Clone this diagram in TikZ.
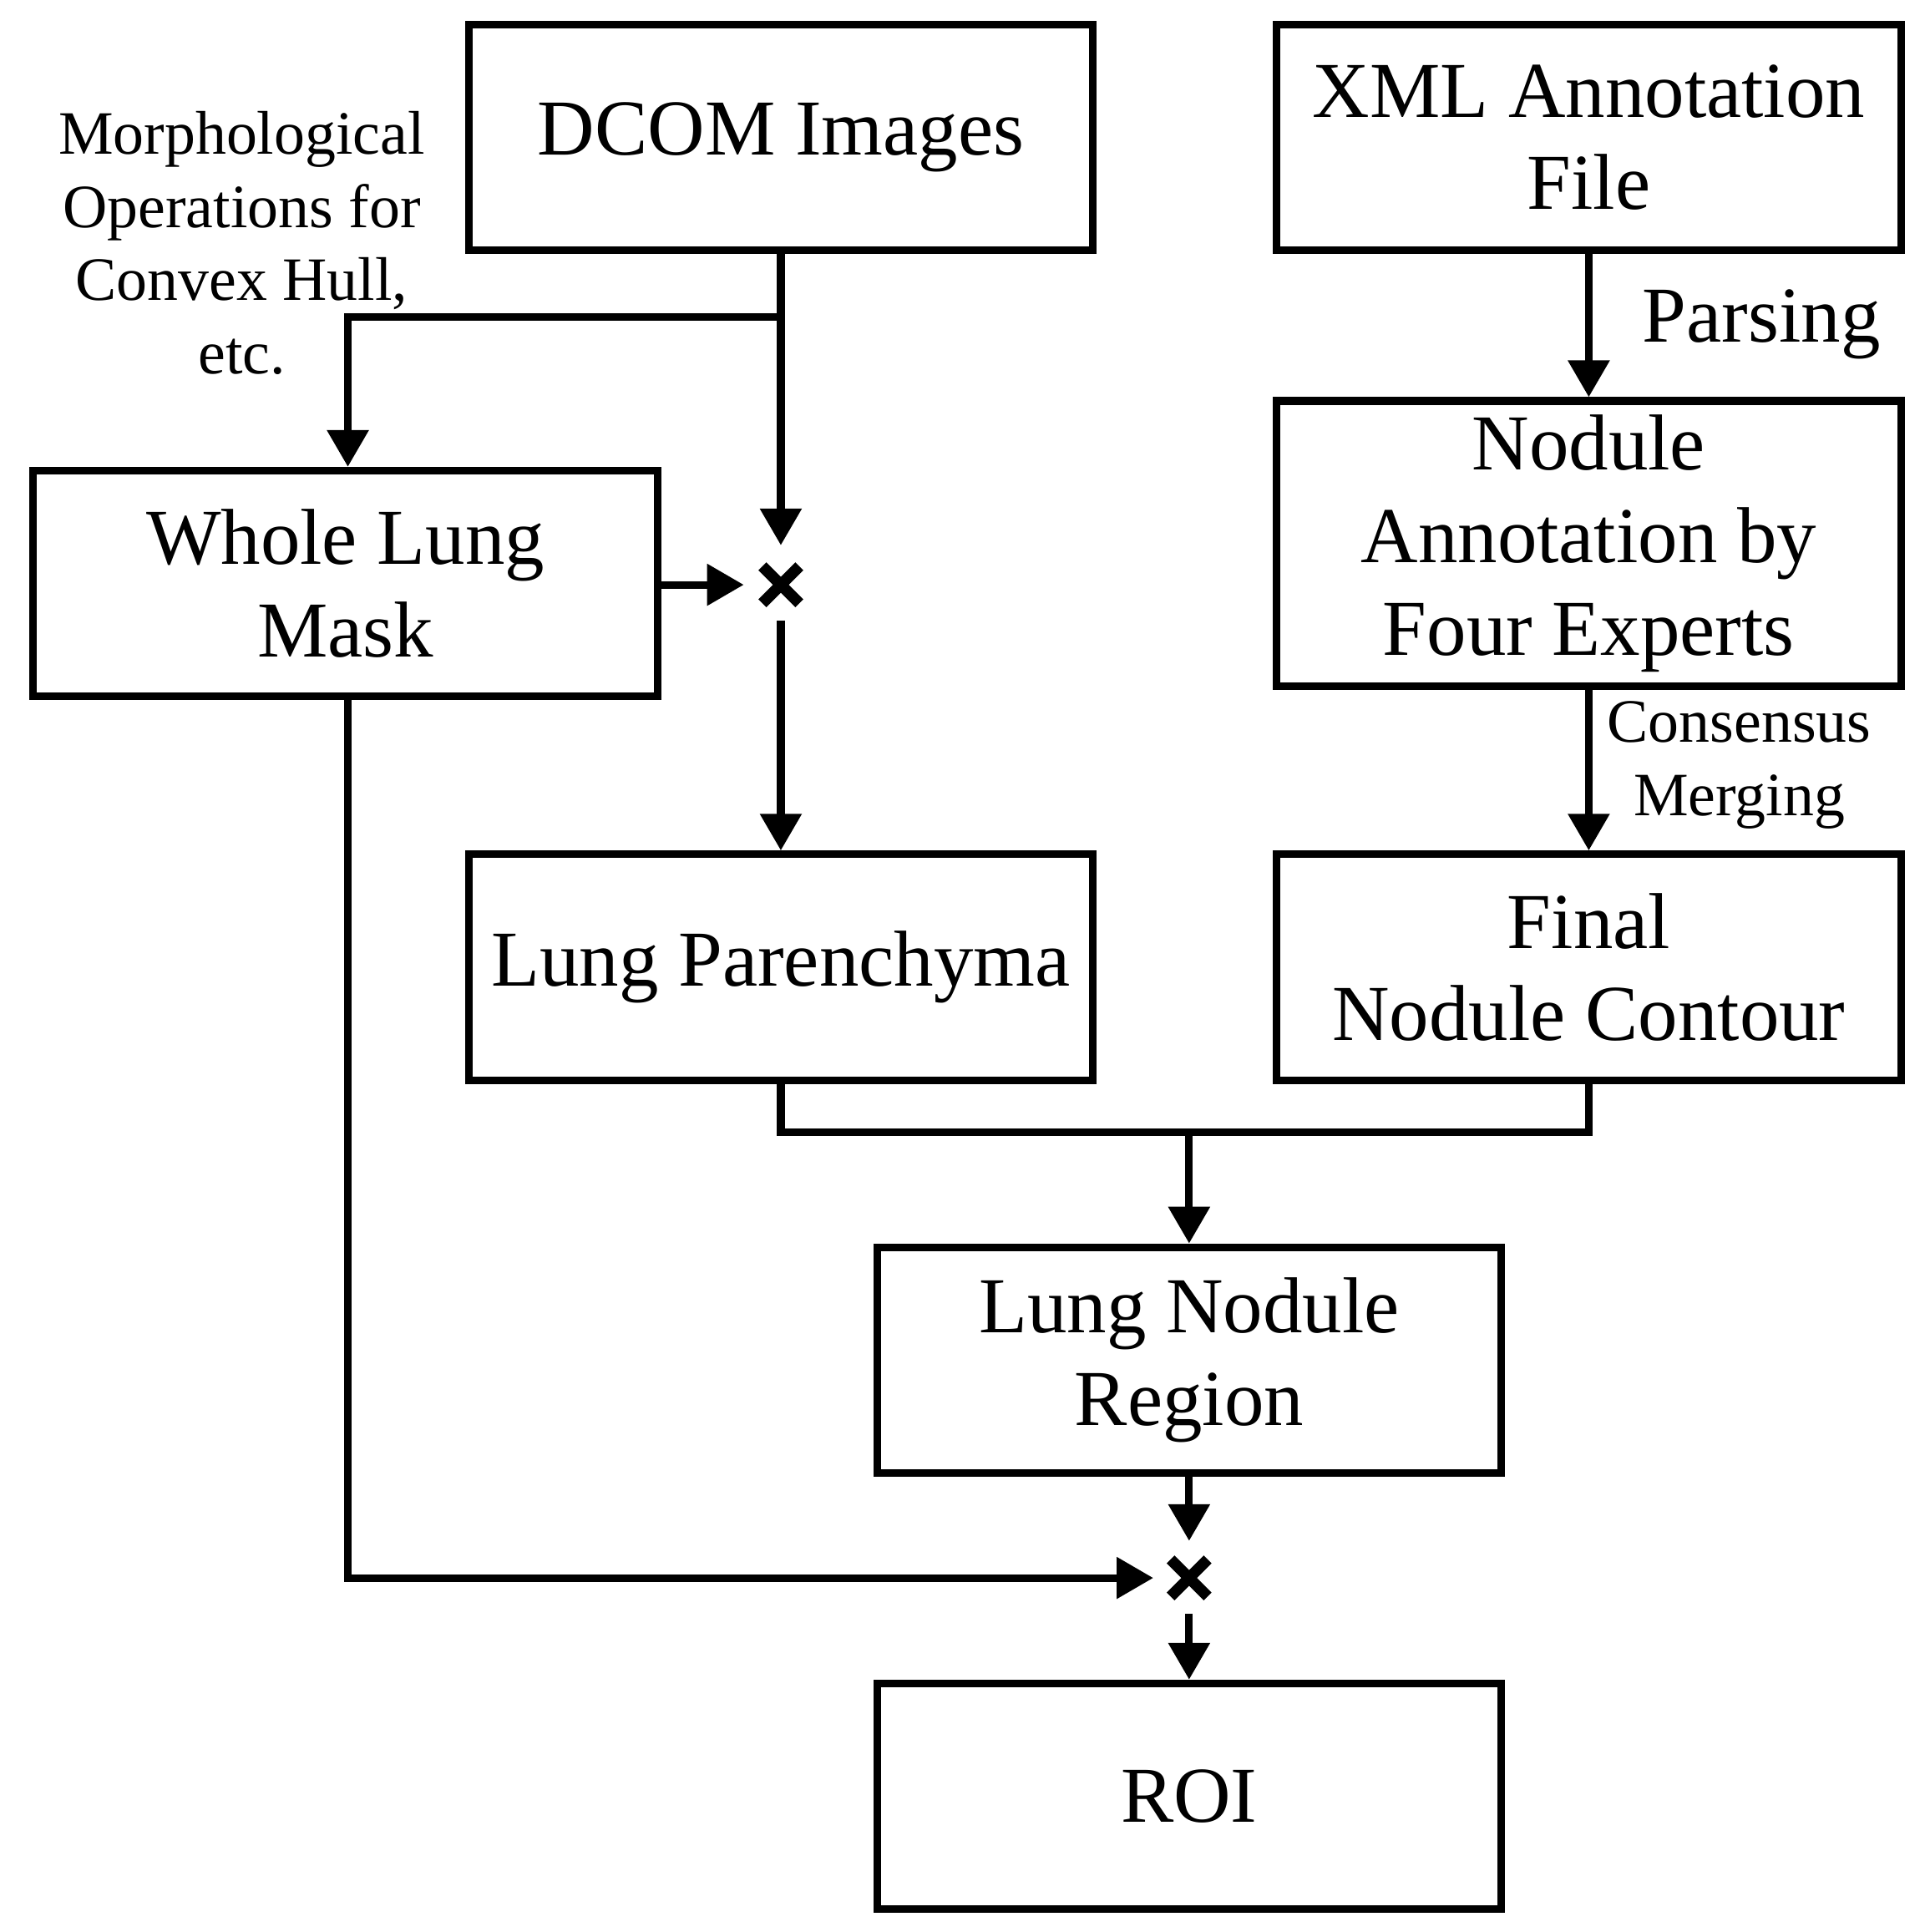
\documentclass[tikz,border=0pt]{standalone}
\usepackage{fontspec}
\setmainfont{Liberation Serif}
\usetikzlibrary{arrows.meta,calc}
\begin{document}
\begin{tikzpicture}[x=0.01477cm,y=-0.01477cm,
  box/.style={draw,line width=2.6pt,minimum width={506*0.01477cm},minimum height={183*0.01477cm},align=center,inner sep=2pt,font=\fontsize{27}{31.5}\selectfont},
  ln/.style={line width=2.6pt},
  ar/.style={ln,-{Triangle[length=0.44cm,width=0.48cm]}},
  small/.style={align=center,font=\fontsize{21}{25}\selectfont},
  cross/.style={line width=3.8pt}]
\useasboundingbox (0,0) rectangle (1560,1566);
\node[box] (dcom) at (633,111.5) {DCOM Images};
\node[box] (xml) at (1288,111.5) {XML Annotation\\File};
\node[box] (mask) at (280,473) {Whole Lung\\Mask};
\node[box,minimum height={231*0.01477cm}] (nod) at (1288,440.5) {Nodule\\Annotation by\\Four Experts};
\node[box] (par) at (633,784) {Lung Parenchyma};
\node[box] (fin) at (1288,784) {Final\\Nodule Contour};
\node[box] (reg) at (964,1102.5) {Lung Nodule\\Region};
\node[box] (roi) at (964,1456) {ROI};
\coordinate (c1) at (633,474);
\coordinate (c2) at (964,1279);
\foreach \c in {c1,c2}{
  \draw[cross] ($(\c)+(-15,-15)$) -- ($(\c)+(15,15)$);
  \draw[cross] ($(\c)+(-15,15)$) -- ($(\c)+(15,-15)$);}
\coordinate (c1t) at (633,442);
\coordinate (c1l) at (603,474);
\coordinate (c1b) at (633,503);
\coordinate (c2t) at (964,1249);
\coordinate (c2l) at (935,1279);
\coordinate (c2b) at (964,1308);
\coordinate (br) at (633,257);
\coordinate (bl) at (282,257);
\draw[ar] (dcom.south) -- (c1t);
\draw[ar] (br) -- (bl) -- (bl|-mask.north);
\draw[ar] (mask.east|-c1) -- (c1l);
\draw[ar] (c1b) -- (par.north);
\draw[ar] (bl|-mask.south) -- (bl|-c2) -- (c2l);
\coordinate (j) at (964,918);
\draw[ln] (par.south) -- (633,918) -- (1288,918) -- (fin.south);
\draw[ar] (j) -- (reg.north);
\draw[ar] (reg.south) -- (c2t);
\draw[ar] (c2b) -- (roi.north);
\draw[ar] (xml.south) -- (nod.north);
\draw[ar] (nod.south) -- (fin.north);
\node[font=\fontsize{27}{31.5}\selectfont] (parsing) at (1428,263) {Parsing};
\node[small] (cons) at (1410,620) {Consensus\\Merging};
\node[small] (morph) at (196,197) {Morphological\\Operations for\\Convex Hull,\\etc.};
\end{tikzpicture}
\end{document}
